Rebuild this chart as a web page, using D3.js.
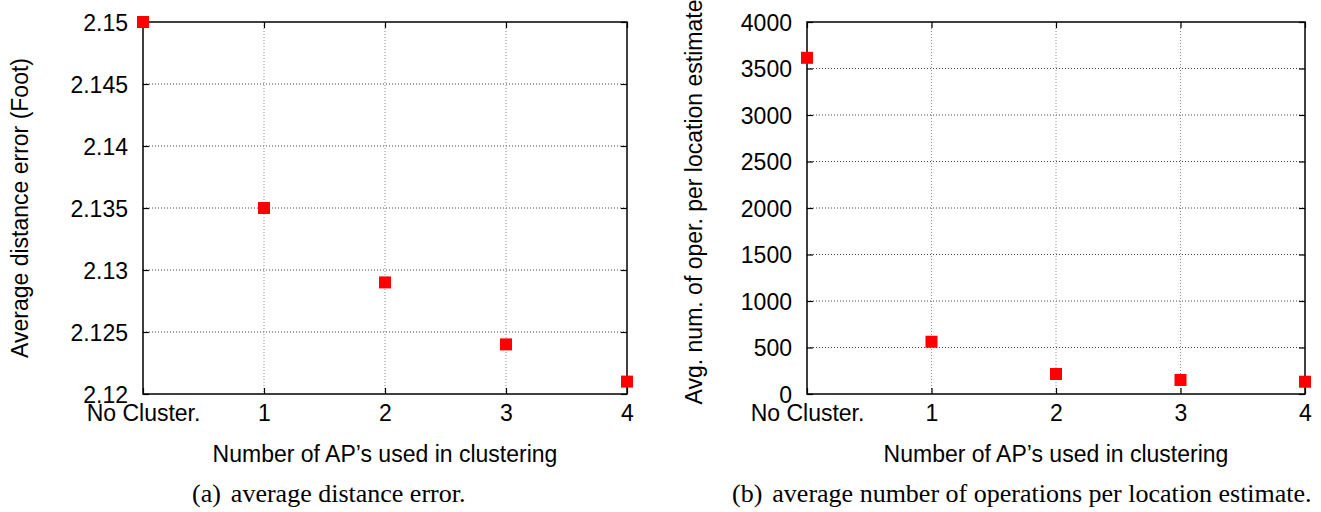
<!DOCTYPE html>
<html>
<head>
<meta charset="utf-8">
<script src="https://cdn.jsdelivr.net/npm/d3@7"></script>
<style>
  body { margin: 0; background: #fff; }
  svg { display: block; }
  .tick text { font-family: "Liberation Sans", Arial, sans-serif; }
</style>
</head>
<body>
<svg id="svg" width="1321" height="512"></svg>
<script>
/**
 * DATA
 */
var categories = ["No Cluster.", "1", "2", "3", "4"];
var distError = [2.150, 2.135, 2.129, 2.124, 2.121];
var operations = [3615, 562, 215, 151, 132];
var distTicks = [2.12, 2.125, 2.13, 2.135, 2.14, 2.145, 2.15];
var opTicks = [0, 500, 1000, 1500, 2000, 2500, 3000, 3500, 4000];

var svg = d3.select("#svg");
var plotTop = 22, plotBottom = 394;
var sans = "Liberation Sans, Arial, sans-serif";
var serif = "Liberation Serif, Times New Roman, serif";

function drawPanel(opt) {
    var x = d3.scalePoint().domain(categories).range([opt.left, opt.right]);
    var y = d3.scaleLinear().domain(opt.domain).range([plotBottom, plotTop]);
    var g = svg.append("g");

    // grid
    g.selectAll(".hgrid").data(opt.ticks.slice(1, -1)).enter().append("line")
        .attr("x1", opt.left).attr("x2", opt.right)
        .attr("y1", function(d) { return y(d); }).attr("y2", function(d) { return y(d); })
        .attr("stroke", "#444").attr("stroke-width", 1).attr("stroke-dasharray", "1,2");
    g.selectAll(".vgrid").data(categories.slice(1, -1)).enter().append("line")
        .attr("x1", function(d) { return x(d); }).attr("x2", function(d) { return x(d); })
        .attr("y1", plotTop).attr("y2", plotBottom)
        .attr("stroke", "#888").attr("stroke-width", 1).attr("stroke-dasharray", "1,2");

    // axes
    var yAxis = d3.axisLeft(y).tickValues(opt.ticks).tickSizeInner(-6).tickSizeOuter(0)
        .tickPadding(15).tickFormat(opt.fmt);
    var gy = g.append("g").attr("transform", "translate(" + opt.left + ",0)").call(yAxis);
    var gyr = g.append("g").attr("transform", "translate(" + opt.right + ",0)")
        .call(d3.axisRight(y).tickValues(opt.ticks).tickSizeInner(-6).tickSizeOuter(0).tickFormat(""));
    var xAxis = d3.axisBottom(x).tickSizeInner(-6).tickSizeOuter(0).tickPadding(11);
    var gx = g.append("g").attr("transform", "translate(0," + plotBottom + ")").call(xAxis);
    var gxt = g.append("g").attr("transform", "translate(0," + plotTop + ")")
        .call(d3.axisTop(x).tickSizeInner(-6).tickSizeOuter(0).tickFormat(""));

    [gy, gyr, gx, gxt].forEach(function(a) {
        a.select(".domain").remove();
        a.selectAll(".tick line").attr("stroke", "#000").attr("stroke-width", 1.2);
        a.selectAll(".tick text").attr("font-size", 23).attr("fill", "#000");
    });
    gy.selectAll(".tick text").attr("dy", "0.36em");
    gx.selectAll(".tick text").attr("dy", "0.71em");

    // frame
    g.append("rect").attr("x", opt.left).attr("y", plotTop)
        .attr("width", opt.right - opt.left).attr("height", plotBottom - plotTop)
        .attr("fill", "none").attr("stroke", "#000").attr("stroke-width", 1.5);

    // points
    g.selectAll(".pt").data(opt.values).enter().append("rect")
        .attr("x", function(d, i) { return x(categories[i]) - 6; })
        .attr("y", function(d) { return y(d) - 6; })
        .attr("width", 12).attr("height", 12)
        .attr("fill", "#ff0000");

    // labels
    g.append("text")
        .attr("transform", "translate(" + opt.ylabelX + "," + opt.ylabelY + ") rotate(-90)")
        .attr("text-anchor", "middle")
        .attr("font-family", sans).attr("font-size", 23)
        .text(opt.ylabel);
    g.append("text")
        .attr("x", (opt.left + opt.right) / 2).attr("y", 462)
        .attr("text-anchor", "middle")
        .attr("font-family", sans).attr("font-size", 23)
        .text("Number of AP\u2019s used in clustering");
    var cap = g.append("text")
        .attr("x", opt.capX).attr("y", 502)
        .attr("font-family", serif).attr("font-size", 26);
    cap.append("tspan").text(opt.capTag);
    cap.append("tspan").attr("dx", 10).text(opt.caption);
}

drawPanel({
    left: 143, right: 627, domain: [2.12, 2.15], ticks: distTicks, values: distError,
    fmt: function(d) { return String(+d.toFixed(3)); },
    ylabel: "Average distance error (Foot)", ylabelX: 28, ylabelY: 208,
    capTag: "(a)", caption: "average distance error.", capX: 192
});
drawPanel({
    left: 807, right: 1305, domain: [0, 4000], ticks: opTicks, values: operations,
    fmt: d3.format("d"),
    ylabel: "Avg. num. of oper. per location estimate", ylabelX: 702, ylabelY: 202,
    capTag: "(b)", caption: "average number of operations per location estimate.", capX: 732
});
</script>
</body>
</html>
